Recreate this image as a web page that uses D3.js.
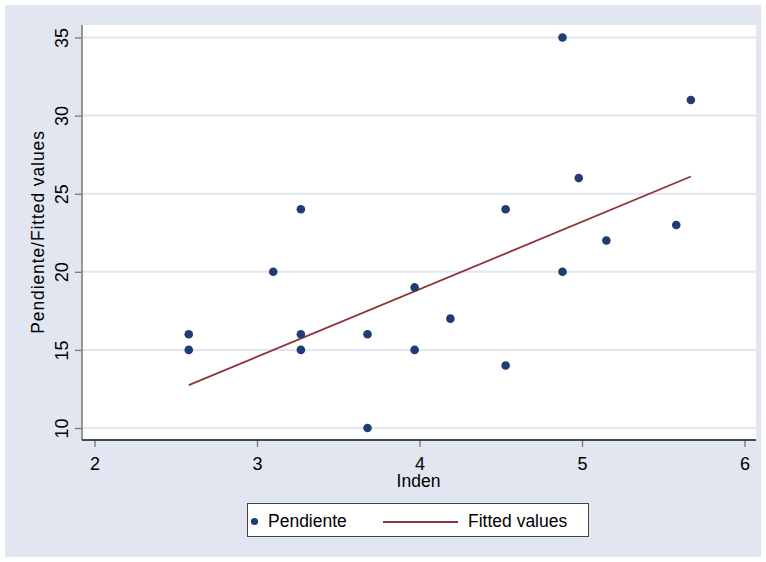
<!DOCTYPE html>
<meta charset="utf-8">
<style>
body { margin: 0; background: #fff; }
text { font-family: "Liberation Sans", Arial, sans-serif; fill: #000; }
</style>
<body>
<svg width="766" height="562"></svg>
<script src="https://d3js.org/d3.v7.min.js"></script>
<script>
// observed points (Inden, Pendiente)
var inden     = [2.58, 2.58, 3.10, 3.27, 3.27, 3.27, 3.68, 3.68, 3.97, 3.97, 4.19, 4.53, 4.53, 4.88, 4.88, 4.98, 5.15, 5.58, 5.67];
var pendiente = [16,   15,   20,   24,   16,   15,   16,   10,   19,   15,   17,   24,   14,   35,   20,   26,   22,   23,   31];

// fitted line ends
var fitX = [2.58, 5.67];
var fitY = [12.74, 26.1];

var xTicks = [2, 3, 4, 5, 6];
var yTicks = [10, 15, 20, 25, 30, 35];

var svg = d3.select("svg");

var plot = {left: 82, right: 756, top: 25, bottom: 440};

var x = d3.scaleLinear().domain([2, 6]).range([94.5, 744.5]);
var y = d3.scaleLinear().domain([10, 35]).range([428, 37.5]);

// graph region
svg.append("rect")
    .attr("x", 5).attr("y", 5)
    .attr("width", 756).attr("height", 552)
    .attr("fill", "#e1e6f0");

svg.append("rect")
    .attr("x", plot.left).attr("y", plot.top)
    .attr("width", plot.right - plot.left).attr("height", plot.bottom - plot.top)
    .attr("fill", "#fff");

// grid
svg.append("g").selectAll("line")
    .data(yTicks)
  .enter().append("line")
    .attr("x1", plot.left).attr("x2", plot.right)
    .attr("y1", function(d) { return y(d); })
    .attr("y2", function(d) { return y(d); })
    .attr("stroke", "#e1e6f0")
    .attr("stroke-width", 2);

// y axis
var yAxis = svg.append("g")
    .attr("transform", "translate(" + plot.left + ",0)")
    .call(d3.axisLeft(y).tickValues(yTicks).tickSize(7).tickSizeOuter(0));
yAxis.select(".domain").remove();
yAxis.selectAll(".tick line").attr("stroke", "#777").attr("stroke-width", 1.3);
yAxis.selectAll(".tick text").remove();
yAxis.selectAll(".tick").append("text")
    .attr("transform", "translate(-14,0) rotate(-90)")
    .attr("text-anchor", "middle")
    .attr("font-size", 18)
    .text(function(d) { return d; });

svg.append("line")
    .attr("x1", plot.left).attr("x2", plot.left)
    .attr("y1", plot.top).attr("y2", plot.bottom)
    .attr("stroke", "#777").attr("stroke-width", 1.5);

// x axis
var xAxis = svg.append("g")
    .attr("transform", "translate(0," + plot.bottom + ")")
    .call(d3.axisBottom(x).tickValues(xTicks).tickFormat(d3.format("d")).tickSize(7).tickSizeOuter(0));
xAxis.select(".domain").remove();
xAxis.selectAll(".tick line").attr("stroke", "#777").attr("stroke-width", 1.3);
xAxis.selectAll(".tick text")
    .attr("y", 30).attr("dy", null)
    .attr("font-size", 18)
    .attr("fill", "#000")
    .attr("font-family", "Liberation Sans, Arial, sans-serif");

svg.append("line")
    .attr("x1", plot.left).attr("x2", plot.right)
    .attr("y1", plot.bottom).attr("y2", plot.bottom)
    .attr("stroke", "#111").attr("stroke-width", 1.5);

// titles
svg.append("text")
    .attr("x", 418.5).attr("y", 487)
    .attr("text-anchor", "middle")
    .attr("font-size", 17.5)
    .text("Inden");

svg.append("text")
    .attr("transform", "translate(43.5,232) rotate(-90)")
    .attr("text-anchor", "middle")
    .attr("font-size", 17.5)
    .attr("letter-spacing", 0.9)
    .text("Pendiente/Fitted values");

// fitted line
var line = d3.line()
    .x(function(d) { return x(d[0]); })
    .y(function(d) { return y(d[1]); });

svg.append("path")
    .datum(d3.zip(fitX, fitY))
    .attr("d", line)
    .attr("fill", "none")
    .attr("stroke", "#90353b")
    .attr("stroke-width", 1.8);

// points
svg.append("g").selectAll("circle")
    .data(d3.zip(inden, pendiente))
  .enter().append("circle")
    .attr("cx", function(d) { return x(d[0]); })
    .attr("cy", function(d) { return y(d[1]); })
    .attr("r", 4.3)
    .attr("fill", "#1f3d72");

// legend
var lg = svg.append("g");
lg.append("rect")
    .attr("x", 247.5).attr("y", 503.5)
    .attr("width", 341).attr("height", 33)
    .attr("fill", "#fff")
    .attr("stroke", "#444").attr("stroke-width", 1);
lg.append("circle")
    .attr("cx", 254.5).attr("cy", 521.5).attr("r", 3.6)
    .attr("fill", "#1f3d72");
lg.append("text")
    .attr("x", 268).attr("y", 527)
    .attr("font-size", 17.5)
    .text("Pendiente");
lg.append("line")
    .attr("x1", 383).attr("x2", 458)
    .attr("y1", 522).attr("y2", 522)
    .attr("stroke", "#90353b").attr("stroke-width", 1.8);
lg.append("text")
    .attr("x", 468).attr("y", 527)
    .attr("font-size", 17.5)
    .text("Fitted values");
</script>
</body>
